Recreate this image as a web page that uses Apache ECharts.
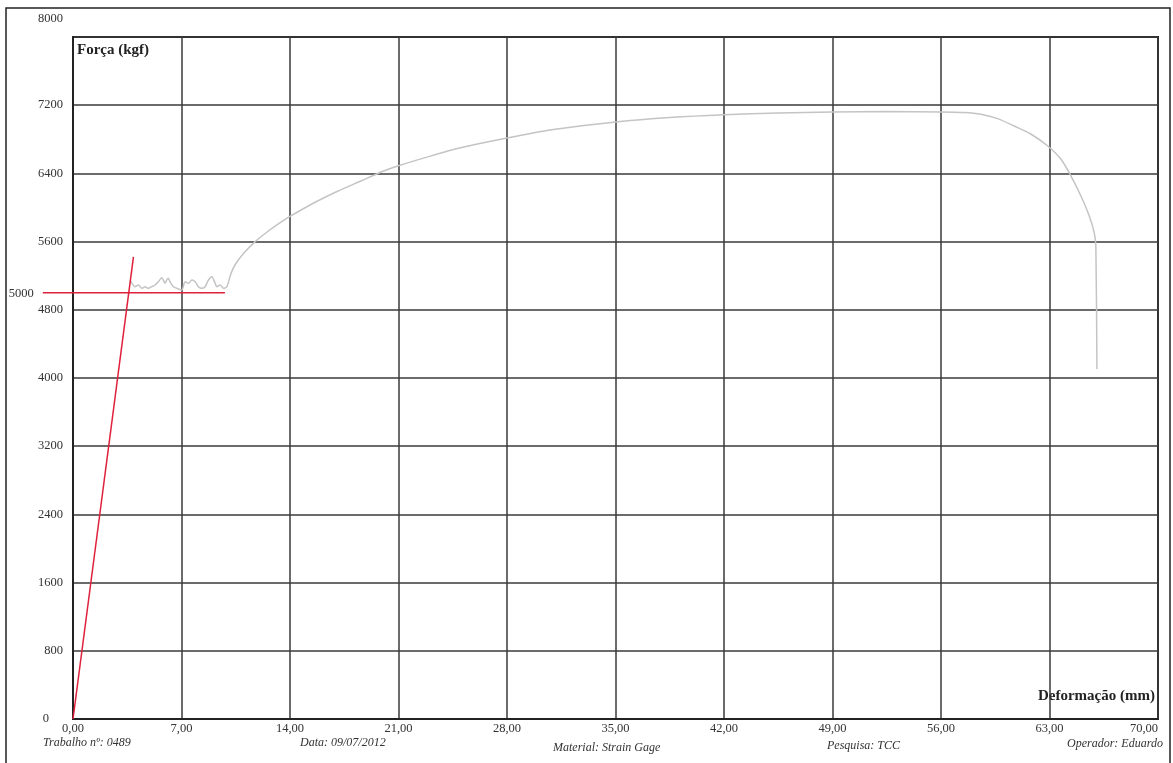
<!DOCTYPE html>
<html>
<head>
<meta charset="utf-8">
<title>Força x Deformação</title>
<script src="https://cdn.jsdelivr.net/npm/echarts@6/dist/echarts.min.js"></script>
<style>
  html, body { margin: 0; padding: 0; background: #fff; }
  #chart { width: 1173px; height: 763px; }
</style>
</head>
<body>
<div id="chart"></div>
<script>
// eixos
var xTicks = [0, 7, 14, 21, 28, 35, 42, 49, 56, 63, 70];
var yTicks = [0, 800, 1600, 2400, 3200, 4000, 4800, 5600, 6400, 7200, 8000];

// reta elastica (vermelha)
var elasticX = [0, 3.9];
var elasticY = [0, 5420];

// linha de escoamento 5000 kgf (vermelha)
var yieldX = [-1.95, 9.8];
var yieldY = [5000, 5000];
var yieldLabel = '5000';

// curva do ensaio (cinza)
var curveX = [3.68, 4.00, 4.22, 4.44, 4.65, 4.86, 5.08, 5.30, 5.51, 5.73, 5.94, 6.05, 6.15, 6.26,
  6.48, 6.70, 7.02, 7.23, 7.45, 7.67, 7.88, 8.09, 8.31, 8.52, 8.74, 8.96, 9.17, 9.28, 9.49, 9.71,
  9.93, 10.2, 10.5, 11.0, 11.75, 12.5, 13.25, 14.0, 15.5, 17.0, 18.5, 20.0, 21.0, 23.0, 25.0,
  28.0, 31.0, 35.0, 38.5, 42.0, 45.5, 49.0, 52.5, 56.0, 57.49, 58.57, 59.65, 60.72, 61.79,
  62.87, 63.73, 64.38, 65.02, 65.56, 65.88, 65.99, 66.06];
var curveY = [5150, 5071, 5091, 5052, 5071, 5052, 5071, 5091, 5130, 5177, 5111, 5150, 5169, 5130,
  5071, 5052, 5032, 5130, 5111, 5150, 5130, 5071, 5052, 5071, 5150, 5188, 5111, 5071, 5091, 5052,
  5071, 5230, 5340, 5460, 5600, 5710, 5808, 5895, 6050, 6185, 6305, 6425, 6490, 6600, 6700,
  6815, 6915, 7003, 7055, 7088, 7108, 7120, 7125, 7120, 7113, 7093, 7043, 6956, 6862,
  6724, 6568, 6372, 6138, 5903, 5708, 5552, 4105];

// rodape
var footer = [
  { text: 'Trabalho nº: 0489', x: 43, y: 743 },
  { text: 'Data: 09/07/2012', x: 300, y: 743 },
  { text: 'Material: Strain Gage', x: 553, y: 748 },
  { text: 'Pesquisa: TCC', x: 827, y: 746 },
  { text: 'Operador: Eduardo', x: 1067, y: 744 }
];

function pairs(xs, ys) {
  return xs.map(function (x, i) { return [x, ys[i]]; });
}

var serif = '"Liberation Serif", "DejaVu Serif", serif';
var myChart = echarts.init(document.getElementById('chart'));

var graphics = [
  {
    type: 'rect',
    shape: { x: 6, y: 8, width: 1164, height: 760 },
    style: { fill: 'none', stroke: '#222', lineWidth: 1.5 },
    silent: true
  },
  {
    type: 'text', left: 77, top: 43,
    style: { text: 'Força (kgf)', font: 'bold 15px ' + serif, fill: '#222' }
  },
  {
    type: 'text', right: 18, top: 689,
    style: { text: 'Deformação (mm)', font: 'bold 15px ' + serif, fill: '#222' }
  }
];
footer.forEach(function (f) {
  graphics.push({
    type: 'text', left: f.x, top: f.y - 6,
    style: { text: f.text, font: 'italic 12px ' + serif, fill: '#333' }
  });
});

myChart.setOption({
  backgroundColor: '#fff',
  animation: false,
  grid: {
    left: 73, right: 15, top: 37, bottom: 44,
    show: true, borderColor: '#222', borderWidth: 2
  },
  xAxis: {
    type: 'value',
    min: 0, max: 70, interval: 7,
    axisLine: { show: true, lineStyle: { color: '#222', width: 2 } },
    axisTick: { show: false },
    splitLine: { show: true, lineStyle: { color: '#3a3a3a', width: 1.5 } },
    axisLabel: {
      margin: 3,
      color: '#333',
      fontFamily: serif,
      fontSize: 12.5,
      alignMaxLabel: 'right',
      formatter: function (v) { return v.toFixed(2).replace('.', ','); }
    }
  },
  yAxis: {
    type: 'value',
    min: 0, max: 8000, interval: 800,
    axisLine: { show: true, lineStyle: { color: '#222', width: 2 } },
    axisTick: { show: false },
    splitLine: { show: true, lineStyle: { color: '#3a3a3a', width: 1.5 } },
    axisLabel: {
      margin: 10,
      color: '#333',
      fontFamily: serif,
      fontSize: 12.5,
      formatter: function (v) {
        if (v === 8000) return '{top|8000}';
        if (v === 0) return '{zero|0}';
        return String(v);
      },
      rich: {
        top: { fontFamily: serif, fontSize: 12.5, color: '#333', padding: [0, 0, 36, 0] },
        zero: { fontFamily: serif, fontSize: 12.5, color: '#333', padding: [0, 14, 0, 0] }
      }
    }
  },
  graphic: graphics,
  series: [
    {
      name: 'Ensaio',
      type: 'line',
      data: pairs(curveX, curveY),
      showSymbol: false,
      smooth: 0.25,
      lineStyle: { color: '#c4c4c4', width: 1.5 },
      z: 3
    },
    {
      name: 'Reta elástica',
      type: 'line',
      data: pairs(elasticX, elasticY),
      showSymbol: false,
      lineStyle: { color: '#e0203c', width: 1.5 },
      z: 4
    },
    {
      // sai para fora da area do grafico, por isso custom sem clip
      name: 'Escoamento',
      type: 'custom',
      clip: false,
      data: [[yieldX[0], yieldX[1], yieldY[0]]],
      encode: { x: [0, 1], y: 2 },
      renderItem: function (params, api) {
        var p0 = api.coord([api.value(0), api.value(2)]);
        var p1 = api.coord([api.value(1), api.value(2)]);
        return {
          type: 'group',
          children: [
            {
              type: 'line',
              shape: { x1: p0[0], y1: p0[1], x2: p1[0], y2: p1[1] },
              style: { stroke: '#e0203c', lineWidth: 1.5 }
            },
            {
              type: 'text',
              style: {
                x: p0[0] - 9, y: p0[1] + 1,
                text: yieldLabel,
                align: 'right', verticalAlign: 'middle',
                font: '12.5px ' + serif, fill: '#333'
              }
            }
          ]
        };
      },
      z: 4
    }
  ]
});
</script>
</body>
</html>
